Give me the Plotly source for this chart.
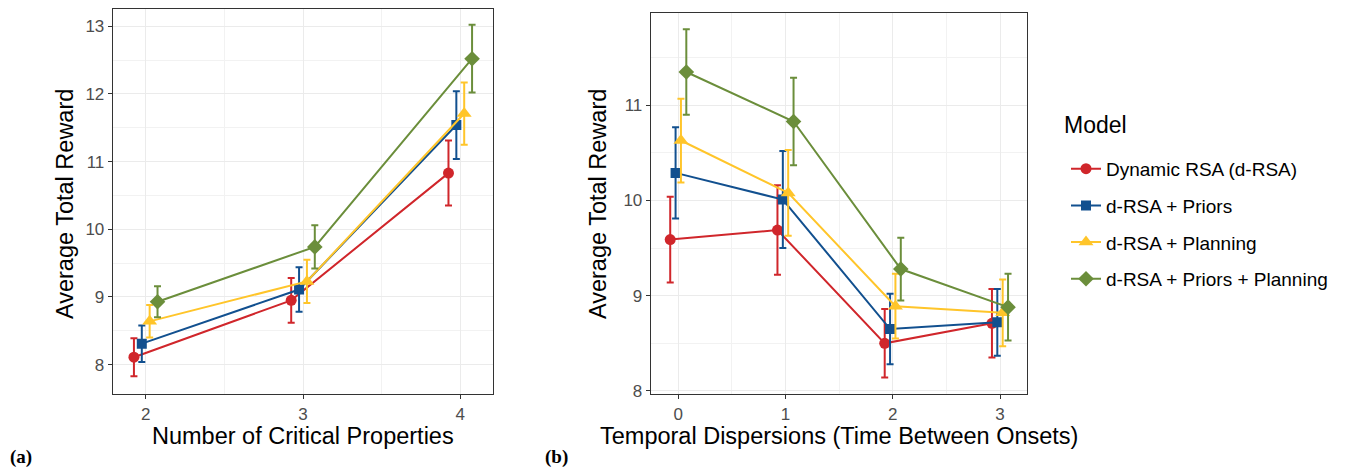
import plotly.graph_objects as go

# ---------------- data ----------------
models = ["Dynamic RSA (d-RSA)", "d-RSA + Priors", "d-RSA + Planning", "d-RSA + Priors + Planning"]

# panel (a): Number of Critical Properties
props = [2, 3, 4]
drsa_a = [8.11, 8.95, 10.83]
priors_a = [8.31, 9.11, 11.54]
planning_a = [8.64, 9.23, 11.71]
both_a = [8.93, 9.74, 12.52]
drsa_a_err = [0.28, 0.33, 0.48]
priors_a_err = [0.27, 0.33, 0.50]
planning_a_err = [0.24, 0.32, 0.46]
both_a_err = [0.23, 0.32, 0.50]

# panel (b): Temporal Dispersions
disp = [0, 1, 2, 3]
drsa_b = [9.59, 9.69, 8.50, 8.71]
priors_b = [10.29, 10.01, 8.65, 8.72]
planning_b = [10.63, 10.08, 8.89, 8.82]
both_b = [11.35, 10.83, 9.28, 8.88]
drsa_b_err = [0.45, 0.47, 0.36, 0.36]
priors_b_err = [0.48, 0.51, 0.37, 0.35]
planning_b_err = [0.44, 0.45, 0.34, 0.35]
both_b_err = [0.45, 0.46, 0.33, 0.35]

# ---------------- style ----------------
colors = ["#D0262B", "#12508F", "#FFC52A", "#6B8E3B"]
symbols = ["circle", "square", "triangle-up", "diamond"]
msizes = [11, 10, 13, 12]
dodge = [-0.075, -0.025, 0.025, 0.075]

FONT = "Liberation Sans, Arial, sans-serif"

fig = go.Figure()

series_a = [(drsa_a, drsa_a_err), (priors_a, priors_a_err), (planning_a, planning_a_err), (both_a, both_a_err)]
series_b = [(drsa_b, drsa_b_err), (priors_b, priors_b_err), (planning_b, planning_b_err), (both_b, both_b_err)]

for i, (m, (ys, es)) in enumerate(zip(models, series_a)):
    fig.add_trace(go.Scatter(
        x=[v + dodge[i] for v in props], y=ys, mode="lines+markers", name=m,
        legendgroup=m, showlegend=True,
        line=dict(color=colors[i], width=2),
        marker=dict(symbol=symbols[i], size=msizes[i], color=colors[i]),
        error_y=dict(type="data", array=es, visible=True, color=colors[i], thickness=2, width=3.5),
        xaxis="x", yaxis="y"))

for i, (m, (ys, es)) in enumerate(zip(models, series_b)):
    fig.add_trace(go.Scatter(
        x=[v + dodge[i] for v in disp], y=ys, mode="lines+markers", name=m,
        legendgroup=m, showlegend=False,
        line=dict(color=colors[i], width=2),
        marker=dict(symbol=symbols[i], size=msizes[i], color=colors[i]),
        error_y=dict(type="data", array=es, visible=True, color=colors[i], thickness=2, width=3.5),
        xaxis="x2", yaxis="y2"))

# page body has an 8px margin, so the figure is 8px smaller and coordinates shifted
OFF = 8
W, H = 1348 - OFF, 476 - OFF

def px(x):
    return (x - OFF) / W

def py(y):
    return 1 - (y - OFF) / H

def ax(domain, rng, tickvals, anchor):
    return dict(
        domain=domain, range=rng, tickvals=tickvals, anchor=anchor,
        showgrid=True, gridcolor="#EBEBEB", gridwidth=1.2,
        minor=dict(dtick=0.5, tick0=0, showgrid=True, gridcolor="#F2F2F2", gridwidth=0.7),
        showline=True, linecolor="#333333", linewidth=1, mirror=True,
        ticks="outside", ticklen=4, tickwidth=1.1, tickcolor="#333333",
        tickfont=dict(family=FONT, size=17, color="#4D4D4D"),
        zeroline=False, fixedrange=True)

x1d = [px(112.7), px(493.3)]
x2d = [px(650.7), px(1026.7)]
y1d = [py(399.3), py(8.3)]
y2d = [py(399.3), py(12)]

fig.update_layout(
    width=W, height=H,
    margin=dict(l=0, r=0, t=0, b=0),
    paper_bgcolor="white", plot_bgcolor="white",
    font=dict(family=FONT, color="black"),
    xaxis=ax(x1d, [1.79, 4.21], props, "y"),
    yaxis=ax(y1d, [7.56, 13.25], [8, 9, 10, 11, 12, 13], "x"),
    xaxis2=ax(x2d, [-0.257, 3.249], disp, "y2"),
    yaxis2=ax(y2d, [7.963, 11.97], [8, 9, 10, 11], "x2"),
    showlegend=True,
    legend=dict(
        x=px(1066), y=py(151), xanchor="left", yanchor="top",
        font=dict(family=FONT, size=19, color="black"),
        traceorder="grouped", tracegroupgap=9,
        bgcolor="rgba(0,0,0,0)"),
)

def ann(text, x, y, size=23.5, angle=0, family=FONT, xanchor="center"):
    return dict(text=text, x=px(x), y=py(y), xref="paper", yref="paper",
                xanchor=xanchor, yanchor="middle", textangle=angle, showarrow=False,
                font=dict(family=family, size=size, color="black"))

SERIF = "Liberation Serif, Times New Roman, serif"
annotations = [
    ann("Number of Critical Properties", (112.7 + 493.3) / 2, 441),
    ann("Temporal Dispersions (Time Between Onsets)", (650.7 + 1026.7) / 2, 441),
    ann("Average Total Reward", 65, 206, angle=-90),
    ann("Average Total Reward", 598, 206, angle=-90),
    ann("Model", 1062, 126, size=23, xanchor="left"),
    ann("<b>(a)</b>", 8, 463, size=19, family=SERIF, xanchor="left"),
    ann("<b>(b)</b>", 556, 463, size=19, family=SERIF),
]
fig.update_layout(annotations=annotations)

fig.write_html("out.html")
